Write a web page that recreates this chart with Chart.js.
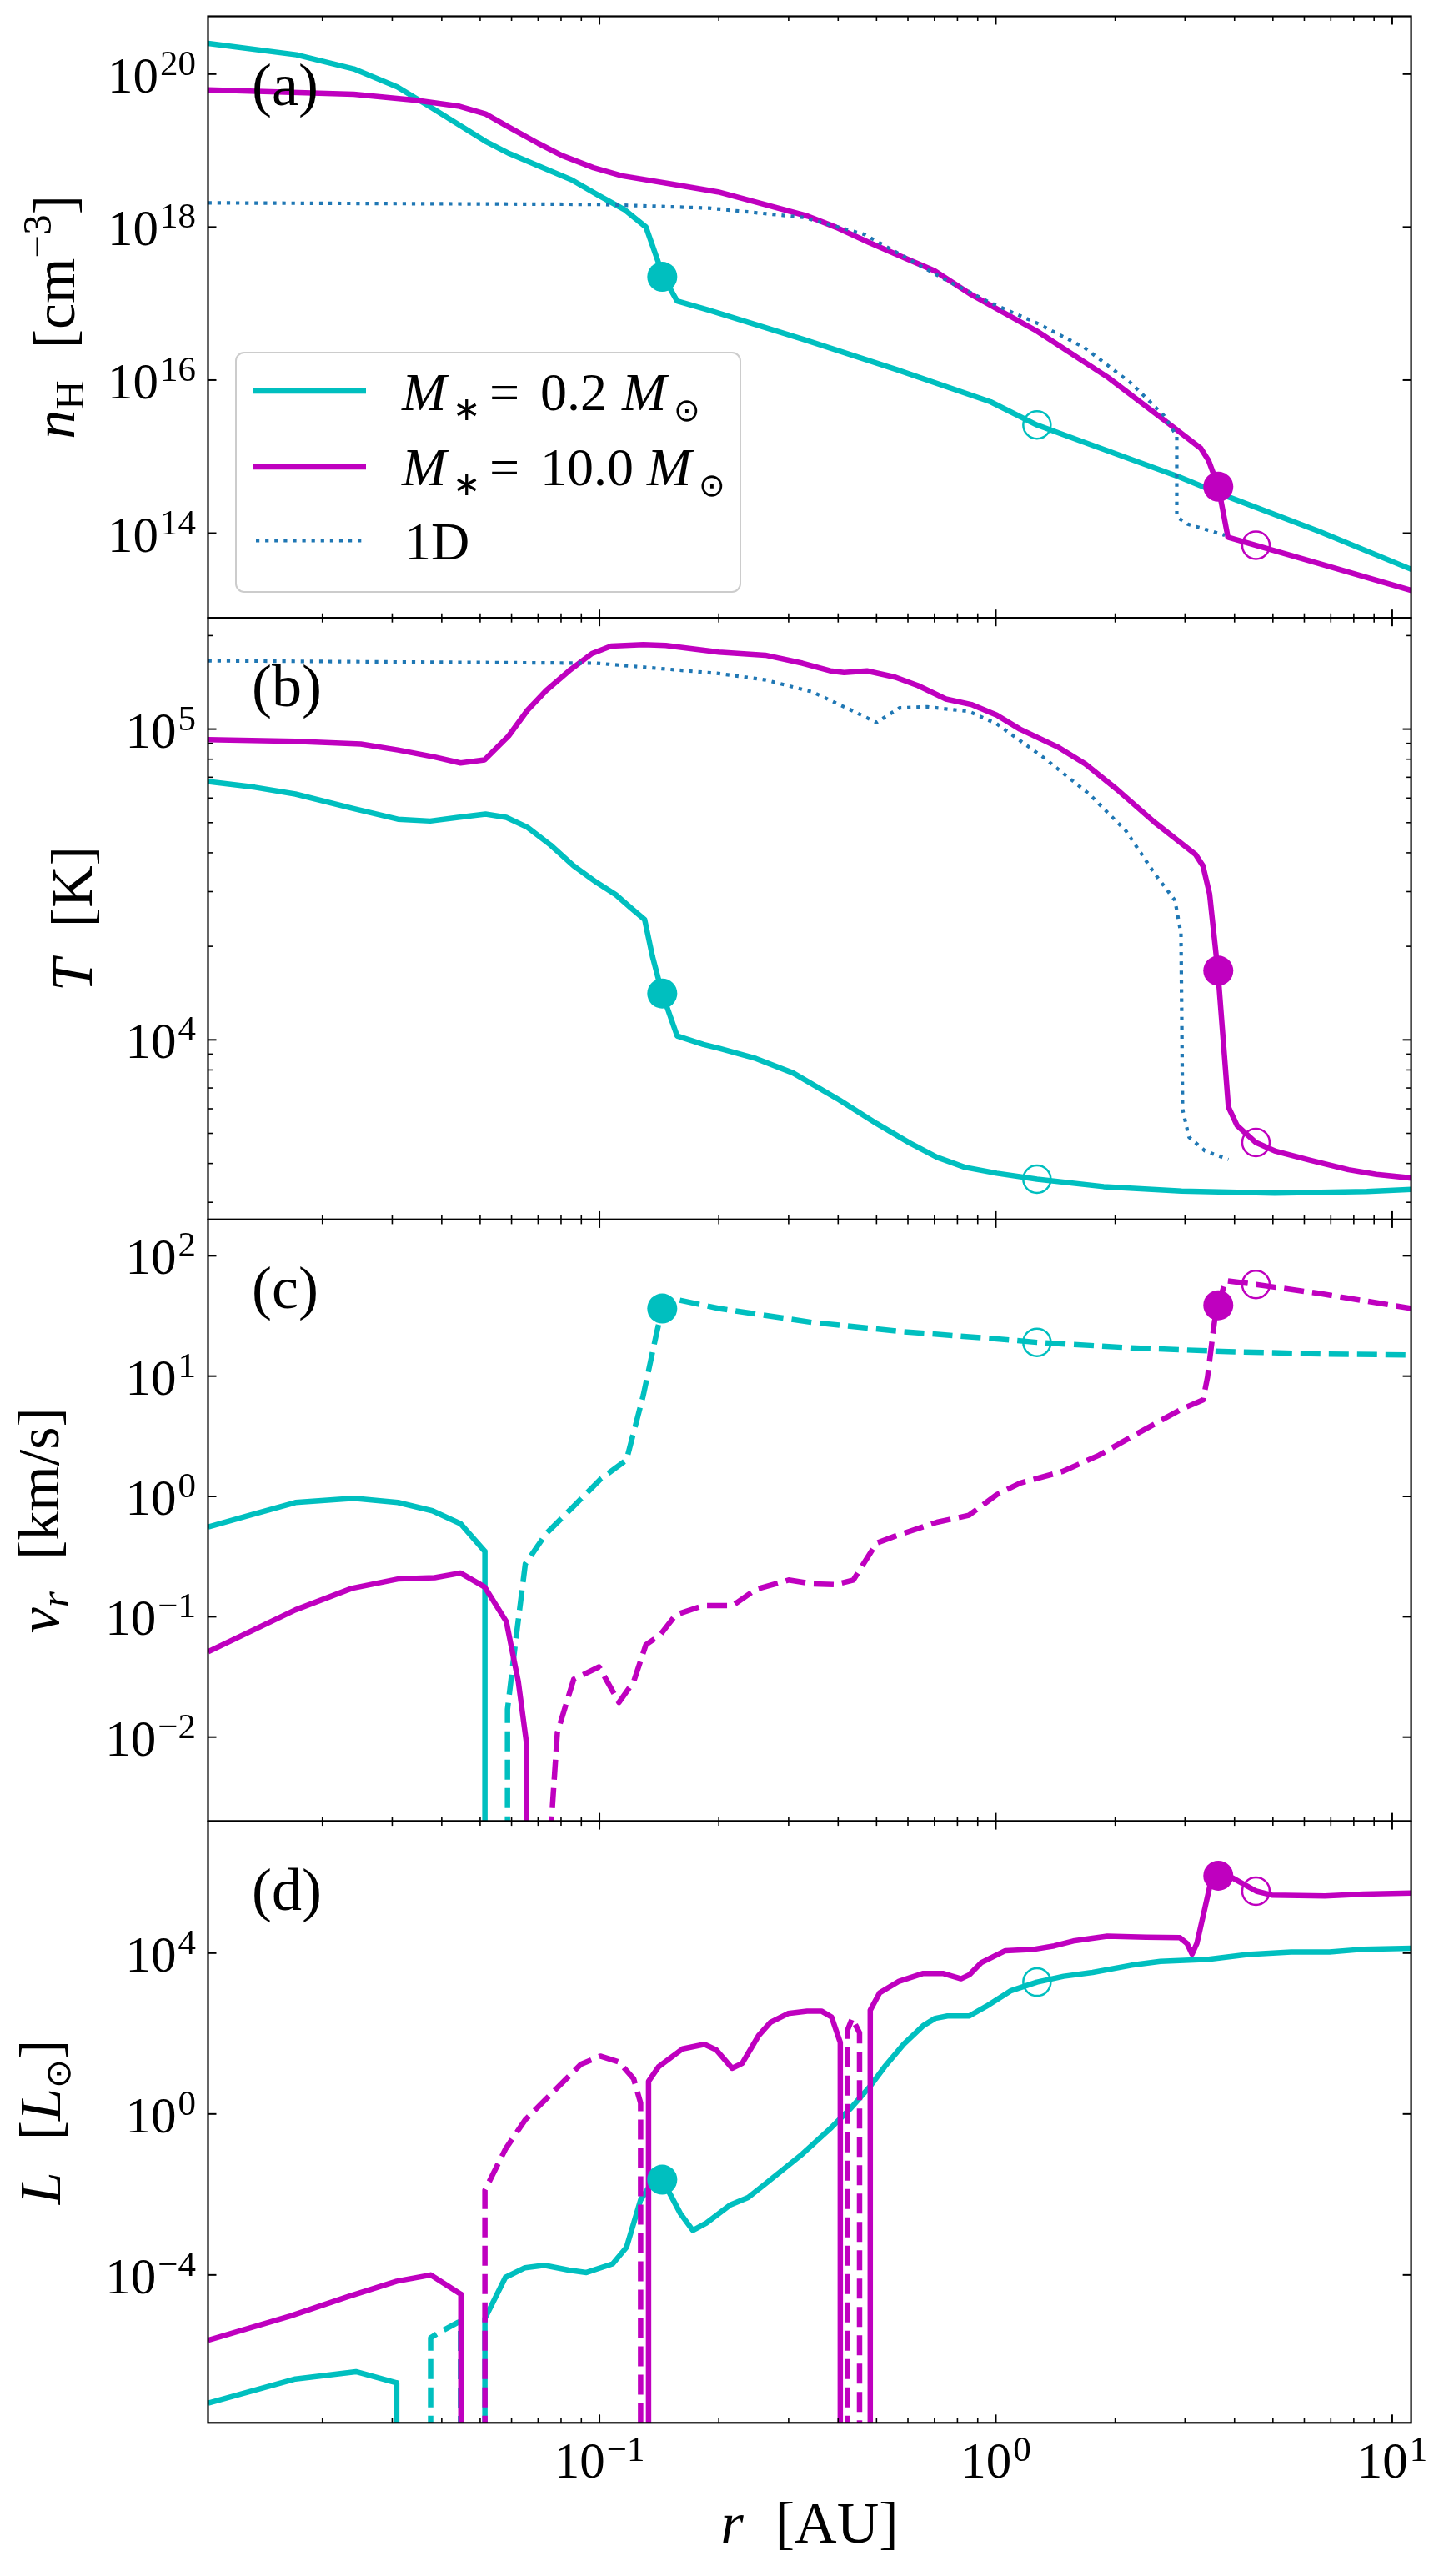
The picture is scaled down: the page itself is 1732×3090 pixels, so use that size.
<!DOCTYPE html>
<html>
<head>
<meta charset="utf-8">
<script src="https://cdn.jsdelivr.net/npm/chart.js@4.4.1/dist/chart.umd.min.js"></script>
<style>
  html, body { margin: 0; padding: 0; background: #fff; }
  #fig { position: relative; width: 1732px; height: 3090px; }
  #fig canvas { position: absolute; left: 0; top: 0; }
</style>
</head>
<body>
<div id="fig">
  <canvas id="panelA" width="1732" height="3090"></canvas>
  <canvas id="panelB" width="1732" height="3090"></canvas>
  <canvas id="panelC" width="1732" height="3090"></canvas>
  <canvas id="panelD" width="1732" height="3090"></canvas>
</div>
<script>
// ---- data (r in AU) ----

// (a) hydrogen number density [cm^-3]
const r_nH_02 = [0.0103, 0.0172, 0.0240, 0.0309, 0.0375, 0.0444, 0.0516, 0.0593, 0.0692, 0.0851, 0.0993, 0.116, 0.131, 0.145, 0.157, 0.189, 0.327, 0.562, 0.970, 1.27, 1.67, 2.88, 3.78, 6.53, 11.2];
const nH_02 = [2.52e20, 1.79e20, 1.17e20, 6.8e19, 3.7e19, 2.14e19, 1.32e19, 9.1e18, 6.5e18, 4.14e18, 2.61e18, 1.67e18, 1.0e18, 2.24e17, 1.08e17, 8.2e16, 3.41e16, 1.37e16, 5.2e15, 2.59e15, 1.54e15, 5.5e14, 3.1e14, 1.06e14, 3.35e13];
const r_nH_10 = [0.0103, 0.0240, 0.0345, 0.0444, 0.0516, 0.0585, 0.0701, 0.0805, 0.0966, 0.114, 0.151, 0.199, 0.248, 0.335, 0.394, 0.478, 0.594, 0.700, 0.869, 1.27, 1.92, 2.74, 3.29, 3.44, 3.64, 3.85, 4.53, 6.53, 11.2];
const nH_10 = [6.2e19, 5.45e19, 4.54e19, 3.78e19, 3.01e19, 2.08e19, 1.24e19, 8.6e18, 5.97e18, 4.68e18, 3.67e18, 2.88e18, 2.12e18, 1.39e18, 1.0e18, 6.3e17, 3.87e17, 2.69e17, 1.30e17, 4.36e16, 1.08e16, 2.66e15, 1.28e15, 8.9e14, 4.05e14, 8.85e13, 6.95e13, 4.02e13, 1.78e13];
const r_nH_1D = [0.0103, 0.0993, 0.189, 0.327, 0.466, 0.562, 0.738, 0.970, 1.27, 1.67, 2.20, 2.66, 2.86, 2.86, 3.05, 3.78];
const nH_1D = [2.07e18, 1.98e18, 1.77e18, 1.34e18, 8.0e17, 4.66e17, 2.11e17, 1.02e17, 5.55e16, 2.67e16, 9.0e15, 3.39e15, 1.85e15, 1.63e14, 1.31e14, 9.4e13];

// (b) temperature [K]
const r_T_02 = [0.0103, 0.0135, 0.0171, 0.0237, 0.0310, 0.0374, 0.0440, 0.0516, 0.0582, 0.0658, 0.0752, 0.0861, 0.0984, 0.110, 0.120, 0.130, 0.136, 0.144, 0.157, 0.183, 0.200, 0.248, 0.308, 0.403, 0.500, 0.604, 0.710, 0.834, 1.005, 1.27, 1.87, 2.94, 5.05, 8.63, 11.2];
const T_02 = [6.78e4, 6.5e4, 6.18e4, 5.57e4, 5.13e4, 5.06e4, 5.2e4, 5.33e4, 5.2e4, 4.83e4, 4.24e4, 3.63e4, 3.21e4, 2.93e4, 2.66e4, 2.44e4, 1.86e4, 1.41e4, 1.03e4, 9.66e3, 9.4e3, 8.71e3, 7.82e3, 6.4e3, 5.38e3, 4.67e3, 4.19e3, 3.89e3, 3.72e3, 3.56e3, 3.37e3, 3.26e3, 3.21e3, 3.25e3, 3.3e3];
const r_T_10 = [0.0103, 0.0171, 0.0250, 0.0310, 0.0384, 0.0446, 0.0513, 0.0590, 0.0658, 0.0733, 0.0838, 0.0957, 0.107, 0.129, 0.147, 0.200, 0.262, 0.325, 0.382, 0.414, 0.473, 0.557, 0.637, 0.748, 0.867, 1.005, 1.15, 1.43, 1.68, 2.02, 2.51, 3.19, 3.33, 3.46, 3.63, 3.86, 4.06, 4.53, 5.05, 6.25, 7.76, 9.12, 11.2];
const T_10 = [9.25e4, 9.14e4, 8.95e4, 8.57e4, 8.13e4, 7.78e4, 7.96e4, 9.51e4, 1.15e5, 1.33e5, 1.54e5, 1.75e5, 1.85e5, 1.87e5, 1.86e5, 1.77e5, 1.73e5, 1.63e5, 1.54e5, 1.52e5, 1.54e5, 1.47e5, 1.38e5, 1.25e5, 1.2e5, 1.11e5, 1.0e5, 8.77e4, 7.73e4, 6.4e4, 5.02e4, 3.95e4, 3.63e4, 2.95e4, 1.67e4, 6.08e3, 5.3e3, 4.67e3, 4.39e3, 4.09e3, 3.82e3, 3.69e3, 3.59e3];
const r_T_1D = [0.0103, 0.0451, 0.0984, 0.200, 0.262, 0.343, 0.426, 0.500, 0.571, 0.671, 0.855, 1.005, 1.315, 1.72, 2.13, 2.51, 2.83, 2.93, 2.944, 2.958, 3.07, 3.37, 3.86];
const T_1D = [1.66e5, 1.64e5, 1.63e5, 1.51e5, 1.44e5, 1.32e5, 1.16e5, 1.05e5, 1.17e5, 1.18e5, 1.14e5, 1.04e5, 8.13e4, 6.18e4, 4.7e4, 3.44e4, 2.81e4, 2.2e4, 1.19e4, 5.97e3, 4.86e3, 4.39e3, 4.12e3];

// (c) radial velocity |v_r| [km/s]; "out" = solid, "in" = dashed
const r_v_02_out = [0.0103, 0.0131, 0.0171, 0.0240, 0.0310, 0.0379, 0.0446, 0.0514, 0.0514];
const v_02_out = [0.558, 0.697, 0.891, 0.966, 0.891, 0.760, 0.594, 0.349, 1.5e-3];
const r_v_02_in = [0.0586, 0.0586, 0.0615, 0.0650, 0.0733, 0.0861, 0.101, 0.117, 0.129, 0.139, 0.144, 0.157, 0.200, 0.343, 0.587, 1.005, 1.27, 2.25, 3.86, 6.61, 11.2];
const v_02_in = [1.5e-3, 0.017, 0.064, 0.275, 0.489, 0.83, 1.41, 2.01, 6.93, 21.9, 36.5, 43.2, 36.5, 28.0, 23.4, 20.4, 19.1, 17.1, 16.0, 15.3, 15.0];
const r_v_10_out = [0.0103, 0.0171, 0.0237, 0.0310, 0.0384, 0.0446, 0.0513, 0.0582, 0.0624, 0.0655, 0.0655];
const v_10_out = [0.0513, 0.114, 0.172, 0.206, 0.211, 0.231, 0.177, 0.0912, 0.0289, 0.00875, 1.5e-3];
const r_v_10_in = [0.0752, 0.0783, 0.0861, 0.0998, 0.112, 0.122, 0.131, 0.142, 0.156, 0.183, 0.200, 0.217, 0.248, 0.300, 0.343, 0.393, 0.437, 0.500, 0.557, 0.710, 0.855, 1.005, 1.15, 1.47, 1.82, 2.25, 2.94, 3.33, 3.42, 3.56, 3.63, 3.80, 4.53, 6.61, 11.2];
const v_10_in = [1.5e-3, 0.0109, 0.0302, 0.0383, 0.0194, 0.0289, 0.0586, 0.070, 0.104, 0.124, 0.124, 0.124, 0.169, 0.202, 0.188, 0.185, 0.202, 0.409, 0.468, 0.610, 0.697, 1.035, 1.29, 1.61, 2.20, 3.27, 5.32, 6.34, 9.86, 28.5, 38.8, 62.1, 57.8, 48.4, 36.5];

// (d) luminosity |L| [L_sun]; solid = outward, dashed = inward
const r_L_02_a = [0.0103, 0.0171, 0.0243, 0.0308, 0.0308];
const L_02_a = [6.49e-8, 2.59e-7, 3.93e-7, 2.07e-7, 1e-8];
const r_L_02_b = [0.0375, 0.0375, 0.0392, 0.0440, 0.0446, 0.0446];
const L_02_b = [1e-8, 2.73e-6, 3.6e-6, 6.62e-6, 7e-6, 1e-8];
const r_L_02_c = [0.0514, 0.0514, 0.0579, 0.0649, 0.0726, 0.0836, 0.0927, 0.108, 0.117, 0.127, 0.133, 0.144, 0.149, 0.160, 0.172, 0.186, 0.214, 0.237, 0.259, 0.325, 0.385, 0.431, 0.482, 0.524, 0.586, 0.656, 0.703, 0.755, 0.857, 0.946, 1.089, 1.27, 1.483, 1.754, 2.198, 2.60, 3.443, 4.315, 5.559, 6.95, 8.47, 11.2];
const L_02_c = [1e-8, 8.26e-6, 8.7e-5, 1.51e-4, 1.74e-4, 1.32e-4, 1.15e-4, 1.89e-4, 4.85e-4, 7.33e-3, 0.0146, 0.0234, 0.0127, 3.37e-3, 1.28e-3, 1.94e-3, 5.55e-3, 8.41e-3, 0.0168, 0.102, 0.467, 1.41, 4.92, 14.9, 54.7, 157, 238, 273, 273, 475, 1150, 1900, 2650, 3300, 5000, 6250, 6980, 9200, 1.06e4, 1.06e4, 1.25e4, 1.32e4];
const r_L_10_a = [0.0103, 0.0166, 0.0232, 0.0308, 0.0375, 0.0447, 0.0447];
const L_10_a = [2.38e-6, 9.5e-6, 2.88e-5, 6.98e-5, 1.0e-4, 3.3e-5, 1e-8];
const r_L_10_b = [0.0514, 0.0514, 0.0579, 0.0649, 0.0757, 0.0897, 0.1005, 0.112, 0.122, 0.127, 0.127];
const L_10_b = [1e-8, 0.0127, 0.134, 0.708, 3.24, 17.1, 27.4, 19.6, 7.45, 1.87, 1e-8];
const r_L_10_c = [0.133, 0.133, 0.141, 0.162, 0.184, 0.197, 0.216, 0.229, 0.252, 0.270, 0.299, 0.334, 0.363, 0.385, 0.405, 0.405];
const L_10_c = [1e-8, 6.49, 14.9, 41.5, 54, 39.3, 13.7, 18.1, 89, 190, 314, 361, 361, 258, 59.6, 1e-8];
const r_L_10_d = [0.422, 0.422, 0.434, 0.453, 0.453];
const L_10_d = [1e-8, 119, 238, 104, 1e-8];
const r_L_10_e = [0.482, 0.482, 0.509, 0.570, 0.656, 0.735, 0.817, 0.857, 0.918, 1.057, 1.253, 1.403, 1.567, 1.910, 2.393, 2.911, 3.034, 3.126, 3.214, 3.350, 3.491, 3.648, 3.963, 4.539, 4.966, 6.761, 8.472, 11.2];
const L_10_e = [1e-8, 380, 1030, 2000, 3130, 3130, 2300, 2880, 5740, 1.15e4, 1.25e4, 1.51e4, 2.0e4, 2.64e4, 2.49e4, 2.43e4, 1.74e4, 9.46e3, 1.74e4, 1.05e5, 6.38e5, 8.41e5, 7.33e5, 3.47e5, 2.78e5, 2.63e5, 2.94e5, 3.10e5];

// special points: [0.2 filled, 0.2 open, 10.0 filled, 10.0 open]
const r_mark = [0.144, 1.27, 3.64, 4.53];
const nH_mark = [2.24e17, 2.59e15, 4.05e14, 6.95e13];
const T_mark = [1.41e4, 3.56e3, 1.67e4, 4.67e3];
const v_mark = [36.5, 19.1, 38.8, 57.8];
const L_mark = [0.0234, 1900, 8.41e5, 3.47e5];

// axis limits and ticks
const X_MIN = 0.01029, X_MAX = 11.16;
const xMajor = [0.1, 1, 10];
const xMinor = [0.02, 0.03, 0.04, 0.05, 0.06, 0.07, 0.08, 0.09, 0.2, 0.3, 0.4, 0.5, 0.6, 0.7, 0.8, 0.9, 2, 3, 4, 5, 6, 7, 8, 9];
const yLimA = [7.8e12, 5.69e20], yMajorA = [1e14, 1e16, 1e18, 1e20];
const yLimB = [2.64e3, 2.28e5], yMajorB = [1e4, 1e5];
const yMinorB = [3e3, 4e3, 5e3, 6e3, 7e3, 8e3, 9e3, 2e4, 3e4, 4e4, 5e4, 6e4, 7e4, 8e4, 9e4, 2e5];
const yLimC = [2e-3, 2e2], yMajorC = [1e-2, 1e-1, 1, 10, 100];
const yLimD = [2.1e-8, 1.9e7], yMajorD = [1e-4, 1, 1e4];

// ---- layout ----
const AX_LEFT = 249.5, AX_RIGHT = 1692.6;
const PANEL_TOP = [19.5, 741.2, 1462.9, 2184.6], PANEL_H = 721.7;
const CYAN = "#00bfbf", MAGENTA = "#bf00bf", BLUE = "#1f77b4";
const SERIF = '"Liberation Serif", "DejaVu Serif", serif';
const R = (px) => px + "px " + SERIF;
const I = (px) => "italic " + px + "px " + SERIF;
const SYM = (px) => px + 'px "DejaVu Sans", sans-serif';
const LABEL_GAP = 38;

function pts(r, v) {
  return r.map((x, i) => ({ x: x, y: v[i] }));
}

function lineDs(r, v, color, style, order) {
  return {
    data: pts(r, v),
    borderColor: color,
    borderWidth: style === "dot" ? 4.2 : 6.5,
    borderDash: style === "dash" ? [24, 10] : style === "dot" ? [4.2, 6.9] : [],
    borderJoinStyle: "round",
    pointRadius: 0,
    tension: 0,
    fill: false,
    order: order,
  };
}

function markerDs(r, v, colors, open) {
  return {
    data: pts(r, v),
    showLine: false,
    pointRadius: open ? 16.5 : 18,
    pointBorderWidth: open ? 2.5 : 0,
    pointBackgroundColor: open ? "rgba(0,0,0,0)" : colors,
    pointBorderColor: colors,
    order: 0,
  };
}

function marks(v) {
  return [
    markerDs([r_mark[0], r_mark[2]], [v[0], v[2]], [CYAN, MAGENTA], false),
    markerDs([r_mark[1], r_mark[3]], [v[1], v[3]], [CYAN, MAGENTA], true),
  ];
}

// text made of runs: {t, f, dy, dx} or {gap}
function drawRuns(ctx, runs, x, y, align) {
  let w = 0;
  runs.forEach((r) => {
    if (r.gap != null) { r.w = r.gap; } else { ctx.font = r.f; r.w = ctx.measureText(r.t).width; }
    w += r.w + (r.dx || 0);
  });
  let cx = align === "right" ? x - w : align === "center" ? x - w / 2 : x;
  runs.forEach((r) => {
    cx += r.dx || 0;
    if (r.t) { ctx.font = r.f; ctx.fillText(r.t, cx, y + (r.dy || 0)); }
    cx += r.w;
  });
}

function powRuns(v, raise) {
  const e = Math.round(Math.log10(v));
  const s = e < 0 ? "\u2212" + (-e) : String(e);
  return [{ t: "10", f: R(61) }, { t: s, f: R(43), dy: -raise, dx: 2 }];
}

function tick(ctx, x0, y0, x1, y1, w) {
  ctx.lineWidth = w;
  ctx.beginPath();
  ctx.moveTo(x0, y0);
  ctx.lineTo(x1, y1);
  ctx.stroke();
}

function drawLegend(ctx) {
  const x0 = 283, y0 = 423, x1 = 888, y1 = 710, rad = 10;
  ctx.save();
  ctx.beginPath();
  ctx.moveTo(x0 + rad, y0);
  ctx.arcTo(x1, y0, x1, y1, rad);
  ctx.arcTo(x1, y1, x0, y1, rad);
  ctx.arcTo(x0, y1, x0, y0, rad);
  ctx.arcTo(x0, y0, x1, y0, rad);
  ctx.closePath();
  ctx.fillStyle = "rgba(255,255,255,0.85)";
  ctx.fill();
  ctx.strokeStyle = "#cccccc";
  ctx.lineWidth = 2;
  ctx.stroke();

  ctx.lineCap = "butt";
  ctx.strokeStyle = CYAN; ctx.lineWidth = 6.5;
  ctx.beginPath(); ctx.moveTo(304, 469); ctx.lineTo(439, 469); ctx.stroke();
  ctx.strokeStyle = MAGENTA;
  ctx.beginPath(); ctx.moveTo(304, 560); ctx.lineTo(439, 560); ctx.stroke();
  ctx.strokeStyle = BLUE; ctx.lineWidth = 4.2; ctx.setLineDash([4.2, 6.9]);
  ctx.beginPath(); ctx.moveTo(307, 648.5); ctx.lineTo(440, 648.5); ctx.stroke();
  ctx.setLineDash([]);

  ctx.fillStyle = "#000";
  const put = (t, f, x, y) => { ctx.font = f; ctx.fillText(t, x, y); };
  put("M", I(64), 482, 492);
  put("\u2217", SYM(40), 543, 504);
  put("=", R(64), 587, 492);
  put("0.2", R(64), 648, 492);
  put("M", I(64), 746, 492);
  put("\u2299", SYM(38), 808, 505);

  put("M", I(64), 482, 582);
  put("\u2217", SYM(40), 543, 594);
  put("=", R(64), 587, 582);
  put("10.0", R(64), 648, 582);
  put("M", I(64), 776, 582);
  put("\u2299", SYM(38), 838, 595);

  put("1D", R(64), 485, 671);
  ctx.restore();
}

const DECOR = {
  panelA: {
    letter: "(a)", yMajor: yMajorA, yMinor: [], labelX: 89, legend: true,
    label: [{ t: "n", f: I(70) }, { t: "H", f: R(49), dy: 11 }, { gap: LABEL_GAP }, { t: "[cm", f: R(70) }, { t: "\u22123", f: R(49), dy: -28 }, { t: "]", f: R(70) }],
  },
  panelB: {
    letter: "(b)", yMajor: yMajorB, yMinor: yMinorB, labelX: 110,
    label: [{ t: "T", f: I(70) }, { gap: LABEL_GAP }, { t: "[K]", f: R(70) }],
  },
  panelC: {
    letter: "(c)", yMajor: yMajorC, yMinor: [], labelX: 70,
    label: [{ t: "v", f: I(70) }, { t: "r", f: I(49), dy: 12 }, { gap: LABEL_GAP }, { t: "[km/s]", f: R(70) }],
  },
  panelD: {
    letter: "(d)", yMajor: yMajorD, yMinor: [], labelX: 72, bottom: true,
    label: [{ t: "L", f: I(70) }, { gap: LABEL_GAP }, { t: "[", f: R(70) }, { t: "L", f: I(70) }, { t: "\u2299", f: SYM(42), dy: 12 }, { t: "]", f: R(70) }],
  },
};

const panelDecor = {
  id: "panelDecor",
  afterDatasetsDraw(chart) {
    const d = DECOR[chart.canvas.id];
    if (d.legend) drawLegend(chart.ctx);
  },
  afterDraw(chart) {
    const d = DECOR[chart.canvas.id];
    const ctx = chart.ctx, a = chart.chartArea;
    const xs = chart.scales.x, ys = chart.scales.y;
    ctx.save();
    ctx.strokeStyle = "#000";
    ctx.fillStyle = "#000";
    ctx.textBaseline = "alphabetic";
    ctx.textAlign = "left";

    // ticks pointing inwards on all four sides
    xMajor.forEach((v) => {
      const px = xs.getPixelForValue(v);
      if (px < a.left || px > a.right) return;
      tick(ctx, px, a.top, px, a.top + 10, 2);
      tick(ctx, px, a.bottom, px, a.bottom - 10, 2);
    });
    xMinor.forEach((v) => {
      const px = xs.getPixelForValue(v);
      if (px < a.left || px > a.right) return;
      tick(ctx, px, a.top, px, a.top + 5.5, 1.6);
      tick(ctx, px, a.bottom, px, a.bottom - 5.5, 1.6);
    });
    d.yMajor.forEach((v) => {
      const py = ys.getPixelForValue(v);
      tick(ctx, a.left, py, a.left + 10, py, 2);
      tick(ctx, a.right, py, a.right - 10, py, 2);
      drawRuns(ctx, powRuns(v, 21), 235, py + 22, "right");
    });
    d.yMinor.forEach((v) => {
      const py = ys.getPixelForValue(v);
      if (py < a.top || py > a.bottom) return;
      tick(ctx, a.left, py, a.left + 5.5, py, 1.6);
      tick(ctx, a.right, py, a.right - 5.5, py, 1.6);
    });

    // frame
    ctx.lineWidth = 2.2;
    ctx.strokeRect(a.left, a.top, a.right - a.left, a.bottom - a.top);

    // panel letter
    ctx.font = R(72);
    ctx.fillText(d.letter, 302, a.top + 106);

    // y label
    ctx.save();
    ctx.translate(d.labelX, (a.top + a.bottom) / 2);
    ctx.rotate(-Math.PI / 2);
    drawRuns(ctx, d.label, 0, 0, "center");
    ctx.restore();

    if (d.bottom) {
      xMajor.forEach((v) => {
        const px = xs.getPixelForValue(v);
        if (px < a.left || px > a.right + 1) return;
        drawRuns(ctx, powRuns(v, 20), px, a.bottom + 66, "center");
      });
      drawRuns(ctx, [{ t: "r", f: I(70) }, { gap: LABEL_GAP }, { t: "[AU]", f: R(70) }], (a.left + a.right) / 2, 3050, "center");
    }
    ctx.restore();
  },
};

function makePanel(id, idx, yLim, datasets) {
  const top = PANEL_TOP[idx];
  return new Chart(document.getElementById(id), {
    type: "line",
    data: { datasets: datasets },
    options: {
      responsive: false,
      animation: false,
      events: [],
      layout: { padding: { left: AX_LEFT, right: 1732 - AX_RIGHT, top: top, bottom: 3090 - top - PANEL_H } },
      plugins: { legend: { display: false }, tooltip: { enabled: false } },
      scales: {
        x: { type: "logarithmic", min: X_MIN, max: X_MAX, display: false },
        y: { type: "logarithmic", min: yLim[0], max: yLim[1], display: false },
      },
    },
    plugins: [panelDecor],
  });
}

// (a)
makePanel("panelA", 0, yLimA, [
  lineDs(r_nH_02, nH_02, CYAN, "solid", 3),
  lineDs(r_nH_10, nH_10, MAGENTA, "solid", 2),
  lineDs(r_nH_1D, nH_1D, BLUE, "dot", 1),
].concat(marks(nH_mark)));

// (b)
makePanel("panelB", 1, yLimB, [
  lineDs(r_T_02, T_02, CYAN, "solid", 3),
  lineDs(r_T_10, T_10, MAGENTA, "solid", 2),
  lineDs(r_T_1D, T_1D, BLUE, "dot", 1),
].concat(marks(T_mark)));

// (c)
makePanel("panelC", 2, yLimC, [
  lineDs(r_v_02_out, v_02_out, CYAN, "solid", 4),
  lineDs(r_v_02_in, v_02_in, CYAN, "dash", 3),
  lineDs(r_v_10_out, v_10_out, MAGENTA, "solid", 2),
  lineDs(r_v_10_in, v_10_in, MAGENTA, "dash", 1),
].concat(marks(v_mark)));

// (d)
makePanel("panelD", 3, yLimD, [
  lineDs(r_L_02_a, L_02_a, CYAN, "solid", 8),
  lineDs(r_L_02_b, L_02_b, CYAN, "dash", 7),
  lineDs(r_L_02_c, L_02_c, CYAN, "solid", 6),
  lineDs(r_L_10_a, L_10_a, MAGENTA, "solid", 5),
  lineDs(r_L_10_b, L_10_b, MAGENTA, "dash", 4),
  lineDs(r_L_10_c, L_10_c, MAGENTA, "solid", 3),
  lineDs(r_L_10_d, L_10_d, MAGENTA, "dash", 2),
  lineDs(r_L_10_e, L_10_e, MAGENTA, "solid", 1),
].concat(marks(L_mark)));
</script>
</body>
</html>
